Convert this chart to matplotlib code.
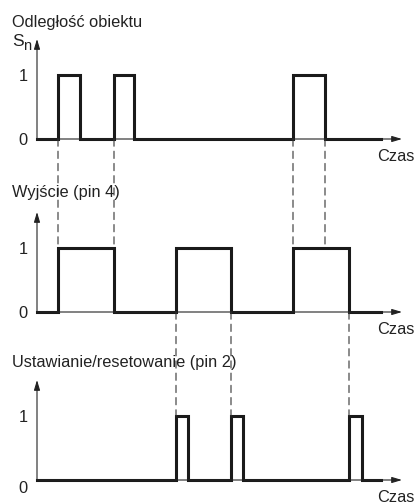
import matplotlib
matplotlib.use("Agg")
import matplotlib.pyplot as plt
import matplotlib.transforms as mtransforms
from matplotlib.patches import ConnectionPatch

plt.rcParams['font.family'] = ['Liberation Sans', 'DejaVu Sans']

# czasy impulsow (jednostki umowne, od poczatku osi)
czujnik = [(21, 43), (77, 97), (256, 288)]
wyjscie = [(21, 77), (139, 194), (256, 312)]
ustaw = [(139, 151), (194, 206), (312, 325)]
tytuly = ['Odległość obiektu', 'Wyjście (pin 4)', 'Ustawianie/resetowanie (pin 2)']
laczenia_12 = [21, 77, 256, 288]
laczenia_23 = [139, 194, 312]
koniec = 344
os_max = 365
y_max = 1.56

W, H = 416, 504
fig = plt.figure(figsize=(W / 100, H / 100), dpi=100)
kolor_txt = '#222'
fs = 11.8

def przebieg(impulsy):
    xs, ys = [0], [0]
    for a, b in impulsy:
        xs += [a, a, b, b]
        ys += [0, 1, 1, 0]
    xs.append(koniec)
    ys.append(0)
    return xs, ys

baseline = [139, 312, 480]
axes = []
for i, imp in enumerate([czujnik, wyjscie, ustaw]):
    ax = fig.add_axes([37 / W, (H - baseline[i]) / H, os_max / W, 100 / H])
    ax.set_xlim(0, os_max)
    ax.set_ylim(0, y_max)
    for s in ax.spines.values():
        s.set_visible(False)
    ax.patch.set_alpha(0)
    ax.set_xticks([])
    ax.set_yticks([0, 1])
    ax.set_yticklabels(['0', '1'], fontsize=fs, color=kolor_txt)
    ax.tick_params(axis='y', length=0, pad=7)
    if i == 2:
        lab0 = ax.get_yticklabels()[0]
        lab0.set_transform(lab0.get_transform() +
                           mtransforms.ScaledTranslation(0, -0.07, fig.dpi_scale_trans))
    # osie ze strzalkami
    styl = dict(arrowstyle='-|>,head_length=0.6,head_width=0.18',
                lw=0.8, color=kolor_txt, shrinkA=0, shrinkB=0)
    ax.annotate('', xy=(os_max, 0), xytext=(0, 0), arrowprops=styl, annotation_clip=False)
    ax.annotate('', xy=(0, y_max), xytext=(0, 0), arrowprops=styl, annotation_clip=False)
    xs, ys = przebieg(imp)
    ax.plot(xs, ys, color='#1a1a1a', lw=2.2, solid_joinstyle='miter', clip_on=False)
    ax.text(os_max - 25, -0.28, 'Czas', fontsize=fs, color=kolor_txt, va='center', ha='left')
    axes.append(ax)

# tytuly
fig.text(12 / W, 1 - 22 / H, tytuly[0], fontsize=fs, color=kolor_txt, va='center')
fig.text(12 / W, 1 - 42 / H, 'S', fontsize=12.5, color=kolor_txt, va='center')
fig.text(23 / W, 1 - 46 / H, 'n', fontsize=10.5, color=kolor_txt, va='center')
fig.text(12 / W, 1 - 193 / H, tytuly[1], fontsize=fs, color=kolor_txt, va='center')
fig.text(12 / W, 1 - 362 / H, tytuly[2], fontsize=fs, color=kolor_txt, va='center')

# linie przerywane laczace zbocza
def polacz(ax_a, ax_b, t):
    con = ConnectionPatch(xyA=(t, 0), coordsA=ax_a.transData,
                          xyB=(t, 1), coordsB=ax_b.transData,
                          linestyle=(0, (6.5, 4.5)), lw=0.8, color='#333')
    fig.add_artist(con)

for t in laczenia_12:
    polacz(axes[0], axes[1], t)
for t in laczenia_23:
    polacz(axes[1], axes[2], t)

fig.savefig('out.png', dpi=100, facecolor='white')
